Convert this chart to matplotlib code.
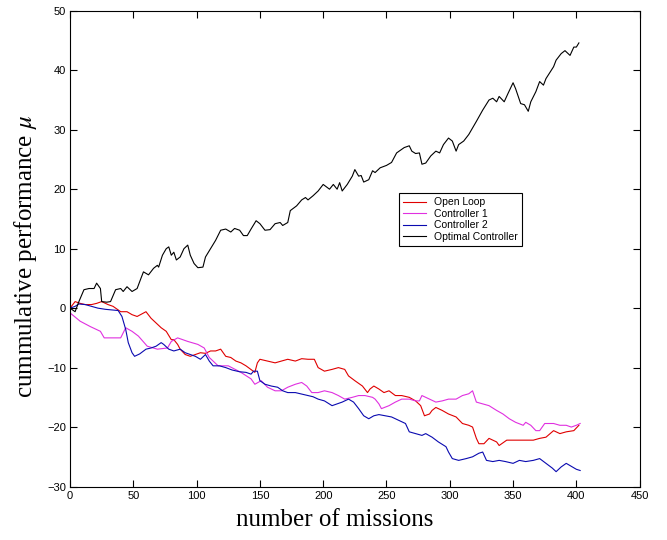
# cumulative performance vs number of missions
import matplotlib
matplotlib.use("Agg")
import matplotlib.pyplot as plt

plt.rcParams['mathtext.fontset'] = 'stix'

# Optimal Controller (black)
opt_x = [0, 4, 7, 11, 15, 19, 21, 24, 25, 29, 32, 36, 40, 42, 45, 49, 53, 56, 58, 62, 66, 69, 70, 73,
         76, 78, 80, 82, 84, 87, 90, 93, 95, 98, 101, 105, 107, 111, 115, 119, 123, 127, 130, 134,
         137, 140, 143, 147, 150, 154, 158, 162, 166, 168, 172, 174, 179, 183, 186, 188, 192, 196,
         200, 205, 208, 211, 213, 215, 219, 223, 225, 228, 230, 232, 236, 239, 241, 245, 250, 254,
         258, 264, 268, 270, 273, 276, 278, 281, 285, 289, 292, 295, 299, 302, 305, 307, 311, 315,
         321, 326, 331, 334, 337, 339, 343, 346, 350, 352, 356, 359, 362, 364, 368, 371, 374, 376,
         382, 384, 388, 391, 395, 398, 400, 402]
opt_y = [0, -0.6, 1.1, 3.1, 3.3, 3.3, 4.2, 3.3, 1.1, 1.0, 1.1, 3.1, 3.3, 2.8, 3.6, 2.8, 3.3, 5.0, 6.1,
         5.6, 6.7, 7.2, 6.9, 8.9, 10.0, 10.3, 8.9, 9.4, 8.1, 8.6, 10.0, 10.6, 8.9, 7.5, 6.8, 6.9,
         8.6, 10.0, 11.4, 13.1, 13.3, 12.8, 13.4, 13.1, 12.2, 12.2, 13.3, 14.7, 14.2, 13.1, 13.2,
         14.2, 14.4, 13.9, 14.4, 16.4, 17.2, 18.2, 18.6, 18.2, 18.9, 19.7, 20.8, 20.0, 20.8, 20.0,
         21.1, 19.7, 20.8, 22.2, 23.3, 22.2, 22.3, 21.2, 21.6, 23.1, 22.8, 23.6, 24.0, 24.5, 26.1,
         27.0, 27.3, 26.4, 26.0, 26.1, 24.2, 24.4, 25.6, 26.4, 26.1, 27.5, 28.6, 28.1, 26.4, 27.5,
         28.1, 29.2, 31.4, 33.3, 35.0, 35.3, 34.7, 35.6, 34.7, 36.1, 37.9, 36.9, 34.4, 34.2, 33.1,
         34.7, 36.4, 38.1, 37.5, 38.6, 40.6, 41.7, 42.8, 43.3, 42.5, 43.9, 43.9, 44.6]

# Open Loop (red)
ol_x = [0, 4, 8, 12, 17, 21, 25, 30, 34, 40, 45, 49, 53, 60, 64, 68, 72, 76, 80, 82, 85, 87, 91, 95,
        99, 103, 107, 111, 115, 119, 123, 127, 131, 135, 139, 146, 148, 150, 156, 162, 167, 172,
        178, 183, 188, 193, 196, 201, 207, 212, 217, 220, 225, 231, 235, 237, 240, 244, 248, 252,
        257, 262, 268, 273, 277, 280, 284, 286, 289, 294, 299, 305, 310, 315, 318, 321, 323, 327,
        331, 337, 339, 345, 350, 355, 360, 366, 371, 376, 382, 387, 392, 398, 402]
ol_y = [0, 1.1, 0.8, 0.6, 0.6, 0.8, 1.1, 0.6, 0.3, -0.6, -0.6, -1.1, -1.4, -0.6, -1.7, -2.5, -3.3,
        -3.9, -5.3, -5.3, -6.1, -6.9, -7.8, -8.1, -7.8, -7.5, -7.6, -7.2, -7.2, -6.9, -8.1, -8.3,
        -8.9, -9.2, -9.7, -10.8, -9.2, -8.6, -8.9, -9.2, -8.9, -8.6, -8.9, -8.5, -8.6, -8.6, -10.0,
        -10.6, -10.3, -10.0, -10.3, -11.4, -12.2, -13.1, -14.2, -13.6, -13.1, -13.6, -14.2, -13.9,
        -14.7, -14.7, -15.0, -15.6, -16.4, -18.1, -17.8, -17.2, -16.7, -17.2, -17.8, -18.3, -19.4,
        -19.7, -20.0, -21.9, -22.8, -22.8, -21.9, -22.5, -23.1, -22.2, -22.2, -22.2, -22.2, -22.2,
        -21.9, -21.7, -20.6, -21.1, -20.8, -20.6, -19.7]

# Controller 1 (magenta)
c1_x = [0, 8, 16, 24, 27, 34, 40, 44, 49, 54, 61, 69, 77, 80, 85, 93, 101, 106, 110, 117, 125, 135,
        143, 146, 151, 156, 162, 167, 172, 178, 183, 187, 191, 196, 201, 207, 212, 217, 223, 228,
        233, 239, 241, 244, 246, 252, 257, 262, 268, 273, 276, 278, 284, 289, 294, 299, 305, 310,
        315, 318, 321, 326, 331, 337, 342, 347, 352, 358, 360, 364, 368, 371, 375, 382, 387, 392,
        396, 400, 403]
c1_y = [-0.8, -2.2, -3.1, -3.9, -5.0, -5.0, -5.0, -3.3, -3.9, -4.7, -6.4, -6.9, -6.7, -5.6, -5.0,
        -5.6, -6.1, -6.7, -8.3, -9.7, -9.7, -10.8, -11.9, -12.8, -12.2, -13.3, -13.9, -13.9, -13.3,
        -12.8, -12.5, -13.1, -14.2, -14.2, -13.9, -14.2, -14.7, -15.3, -15.0, -14.7, -14.7, -15.0,
        -15.3, -16.1, -16.9, -16.4, -15.8, -15.3, -15.3, -15.6, -15.6, -14.7, -15.3, -15.8, -15.6,
        -15.3, -15.3, -14.7, -14.4, -13.9, -15.8, -16.1, -16.4, -17.2, -17.8, -18.6, -19.2, -19.7,
        -19.2, -19.7, -20.6, -20.6, -19.4, -19.4, -19.7, -19.7, -20.0, -19.7, -19.4]

# Controller 2 (blue)
c2_x = [0, 4, 7, 12, 17, 22, 28, 33, 38, 41, 44, 46, 49, 51, 55, 60, 64, 68, 72, 74, 78, 82, 87, 91,
        95, 99, 103, 107, 110, 113, 118, 123, 128, 134, 139, 143, 145, 148, 150, 154, 159, 164,
        168, 172, 178, 182, 188, 192, 196, 201, 207, 211, 215, 220, 224, 228, 232, 236, 240, 244,
        249, 254, 260, 265, 268, 273, 278, 281, 286, 291, 297, 299, 302, 307, 313, 318, 323, 326,
        329, 334, 339, 344, 350, 355, 360, 366, 371, 376, 381, 384, 388, 392, 396, 400, 403]
c2_y = [0, 0.3, 0.7, 0.6, 0.3, 0, -0.2, -0.3, -0.4, -1.4, -3.6, -5.8, -7.5, -8.1, -7.7, -6.9, -6.7,
        -6.4, -5.8, -6.1, -6.9, -7.2, -6.9, -7.5, -7.8, -8.1, -8.6, -7.8, -8.9, -9.7, -9.7, -10.0,
        -10.4, -10.7, -10.8, -11.1, -10.6, -10.6, -12.2, -12.8, -13.1, -13.3, -13.9, -14.2, -14.2,
        -14.4, -14.7, -14.9, -15.3, -15.6, -16.4, -16.1, -15.8, -15.3, -15.8, -16.9, -18.1, -18.6,
        -18.1, -17.9, -18.1, -18.3, -18.9, -19.4, -20.8, -21.1, -21.4, -21.1, -21.7, -22.5, -23.3,
        -24.2, -25.3, -25.6, -25.3, -25.0, -24.4, -24.2, -25.6, -25.8, -25.6, -25.8, -26.1, -25.6,
        -25.8, -25.6, -25.3, -26.1, -26.9, -27.5, -26.7, -26.1, -26.6, -27.1, -27.3]

fig = plt.figure(figsize=(6.67, 5.4), dpi=100)
ax = fig.add_axes([0.105, 0.099, 0.854, 0.881])

ax.plot(ol_x, ol_y, color='#e00000', lw=0.8, label='Open Loop')
ax.plot(c1_x, c1_y, color='#e030e0', lw=0.8, label='Controller 1')
ax.plot(c2_x, c2_y, color='#0a0ab0', lw=0.8, label='Controller 2')
ax.plot(opt_x, opt_y, color='black', lw=0.8, label='Optimal Controller')

ax.set_xlim(0, 450)
ax.set_ylim(-30, 50)
ax.set_xticks(range(0, 451, 50))
ax.set_yticks(range(-30, 51, 10))
ax.tick_params(direction='in', top=True, right=True, length=5, width=0.8,
               labelsize=8, pad=3)
for lbl in ax.get_xticklabels() + ax.get_yticklabels():
    lbl.set_fontfamily('Liberation Sans')
for s in ax.spines.values():
    s.set_linewidth(0.8)

ax.set_xlabel('number of missions', family='Liberation Serif', fontsize=18, labelpad=6)
ax.set_ylabel(r'cummulative performance $\mu$', family='Liberation Serif', fontsize=18, labelpad=6)
ax.xaxis.label.set_x(0.464)
ax.yaxis.label.set_y(0.485)

leg = ax.legend(loc='upper left', bbox_to_anchor=(0.577, 0.617), borderaxespad=0,
                fancybox=False, framealpha=1, edgecolor='black', handlelength=2.2,
                prop={'family': 'Liberation Sans', 'size': 7.5}, labelspacing=0.15,
                borderpad=0.4, handletextpad=0.8)
leg.get_frame().set_linewidth(0.8)

fig.savefig('out.png', dpi=100)
